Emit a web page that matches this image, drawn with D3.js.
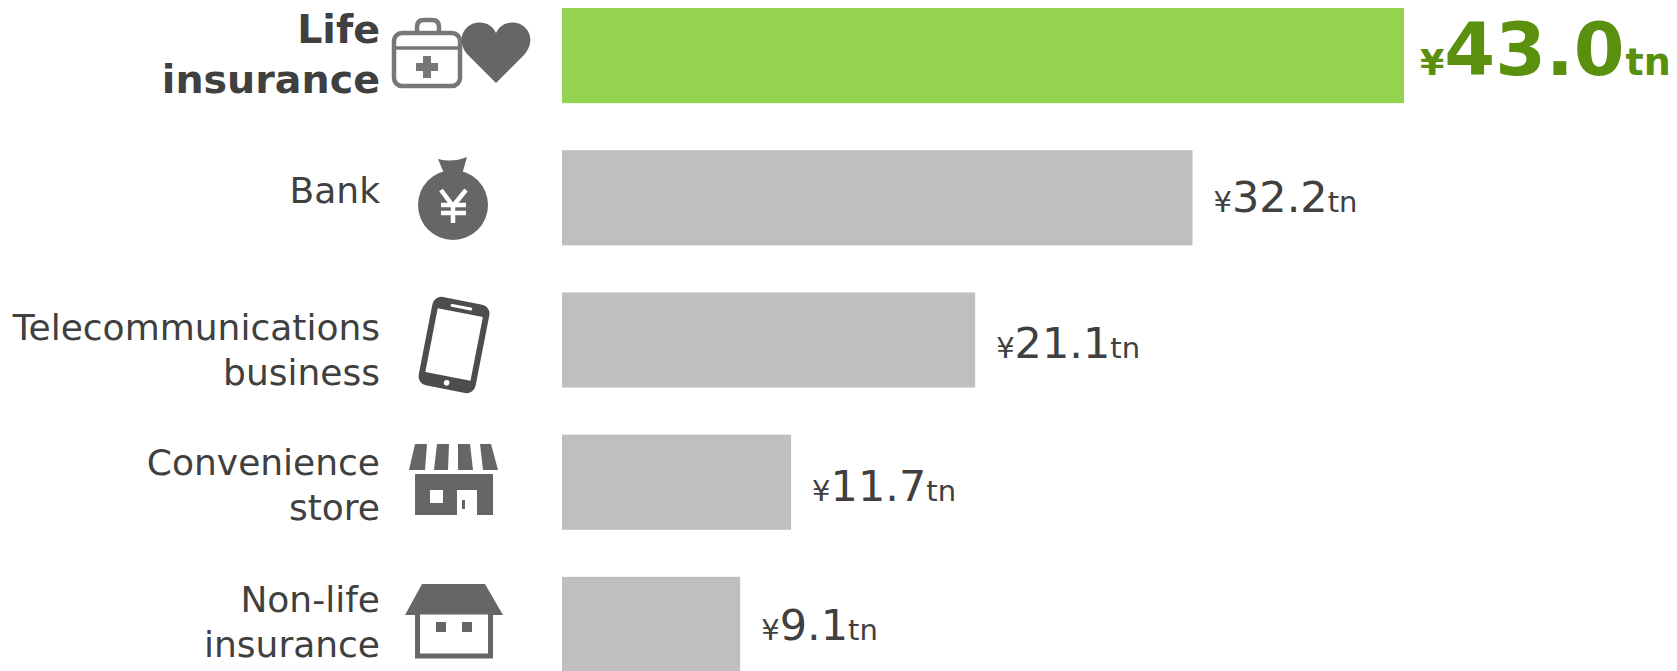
<!DOCTYPE html>
<html>
<head>
<meta charset="utf-8">
<script src="https://cdn.jsdelivr.net/npm/d3@7"></script>
<style>
html, body { margin: 0; padding: 0; background: #fff; }
svg { display: block; }
text { font-family: "DejaVu Sans", sans-serif; }
</style>
</head>
<body>
<svg id="chart" width="1677" height="671"></svg>
<script>
const categories = ["Life insurance", "Bank", "Telecommunications business", "Convenience store", "Non-life insurance"];
const labelLines = [["Life", "insurance"], ["Bank"], ["Telecommunications", "business"], ["Convenience", "store"], ["Non-life", "insurance"]];
const values = [43.0, 32.2, 21.1, 11.7, 9.1];
const highlight = "Life insurance";

const BAR_GREEN = "#94d350";
const BAR_GREY = "#bfbfbf";
const VALUE_GREEN = "#5b8f0e";
const TEXT_GREY = "#404040";
const ICON_GREY = "#666666";

const svg = d3.select("#chart");

const x = d3.scaleLinear().domain([0, 43]).range([562, 1404]);
const y = d3.scaleBand().domain(categories).range([8, 672]).paddingInner(0.331).paddingOuter(0);

//Bars
svg.selectAll(".bar")
    .data(categories)
    .join("rect")
    .attr("class", "bar")
    .attr("x", x(0))
    .attr("y", d => y(d))
    .attr("width", (d, i) => x(values[i]) - x(0))
    .attr("height", y.bandwidth())
    .style("fill", d => d === highlight ? BAR_GREEN : BAR_GREY);

//Category labels, right aligned at the icon column
const LABEL_X = 380;
const labelBaseline = [43, 203, 340, 475, 612];
const labelStep = [50, 0, 45, 45, 45];

svg.selectAll(".label")
    .data(categories)
    .join("text")
    .attr("class", "label")
    .attr("text-anchor", "end")
    .style("fill", TEXT_GREY)
    .style("font-size", d => d === highlight ? "39.6px" : "36px")
    .style("font-weight", d => d === highlight ? "bold" : "normal")
    .each(function(d, i) {
        d3.select(this).selectAll("tspan")
            .data(labelLines[i])
            .join("tspan")
            .attr("x", LABEL_X)
            .attr("y", (line, k) => labelBaseline[i] + k * labelStep[i])
            .text(line => line);
    });

//Value labels: small yen sign, number, small unit
const valueBaseline = [75, 212, 358, 501, 640];

const value = svg.selectAll(".value")
    .data(categories)
    .join("text")
    .attr("class", "value")
    .attr("x", (d, i) => x(values[i]) + (d === highlight ? 16 : 21))
    .attr("y", (d, i) => valueBaseline[i])
    .style("fill", d => d === highlight ? VALUE_GREEN : TEXT_GREY)
    .style("font-weight", d => d === highlight ? "bold" : "normal");

value.append("tspan")
    .style("font-size", d => d === highlight ? "35px" : "29px")
    .text("¥");
value.append("tspan")
    .style("font-size", d => d === highlight ? "73px" : "43px")
    .text((d, i) => values[i].toFixed(1));
value.append("tspan")
    .attr("dx", d => d === highlight ? 1 : 0)
    .style("font-size", d => d === highlight ? "38px" : "29px")
    .text("tn");

//Icons, each drawn in page pixels and softened a little like the scaled artwork
svg.append("defs").append("filter")
    .attr("id", "soft")
    .append("feGaussianBlur")
    .attr("stdDeviation", 0.5);

const icons = svg.append("g").attr("class", "icons").attr("filter", "url(#soft)");

function drawMedical(g) {
    g.append("path")
        .attr("d", "M417 32V27Q417 20 424 20H432Q439 20 439 27V32")
        .style("fill", "none").style("stroke", "#777").style("stroke-width", 4.5);
    g.append("rect")
        .attr("x", 394).attr("y", 33).attr("width", 66).attr("height", 53).attr("rx", 8)
        .style("fill", "#fff").style("stroke", "#777").style("stroke-width", 4.5);
    g.append("path")
        .attr("d", "M394 48H460")
        .style("stroke", "#777").style("stroke-width", 3.5);
    g.append("path")
        .attr("d", "M416 67H438M427 56V78")
        .style("stroke", "#777").style("stroke-width", 8);
    g.append("path")
        .attr("d", "M496 83L468 55C458 44 460 30 472 24C482 20 492 24 496 33C500 24 510 20 520 24C532 30 534 44 524 55Z")
        .style("fill", ICON_GREY);
}

function drawBag(g) {
    g.append("path")
        .attr("d", "M438 159Q452 163 467 157L461 178H446Z")
        .style("fill", ICON_GREY);
    g.append("circle")
        .attr("cx", 453).attr("cy", 205).attr("r", 35)
        .style("fill", ICON_GREY);
    g.append("path")
        .attr("d", "M441 190L453 206L466 190M453 206V223M441 205H466M441 213H466")
        .style("fill", "none").style("stroke", "#fff").style("stroke-width", 4.5);
}

function drawPhone(g) {
    const phone = g.append("g").attr("transform", "translate(454,345) rotate(11)");
    phone.append("rect")
        .attr("x", -29).attr("y", -45).attr("width", 58).attr("height", 90).attr("rx", 9)
        .style("fill", "#4d4d4d");
    phone.append("rect")
        .attr("x", -23).attr("y", -33).attr("width", 46).attr("height", 65)
        .style("fill", "#fff");
    phone.append("rect")
        .attr("x", -11).attr("y", -40).attr("width", 22).attr("height", 3).attr("rx", 1.5)
        .style("fill", "#fff");
    phone.append("circle")
        .attr("cx", 0).attr("cy", 38.5).attr("r", 2.8)
        .style("fill", "#fff");
}

function drawStore(g) {
    g.append("path")
        .attr("d", "M415 444H427L425 470H409ZM437 444H449L448 470H434ZM458 444H470L473 470H458ZM480 444H491L498 470H483Z")
        .style("fill", ICON_GREY);
    g.append("rect")
        .attr("x", 415).attr("y", 474).attr("width", 78).attr("height", 41)
        .style("fill", ICON_GREY);
    g.append("rect")
        .attr("x", 430).attr("y", 490).attr("width", 13).attr("height", 13)
        .style("fill", "#fff");
    g.append("rect")
        .attr("x", 457).attr("y", 490).attr("width", 20).attr("height", 25)
        .style("fill", "#fff");
    g.append("rect")
        .attr("x", 462).attr("y", 500).attr("width", 3).attr("height", 9)
        .style("fill", ICON_GREY);
}

function drawHouse(g) {
    g.append("path")
        .attr("d", "M422 584H485L503 615H405Z")
        .style("fill", ICON_GREY);
    g.append("rect")
        .attr("x", 417.5).attr("y", 612).attr("width", 73).attr("height", 44)
        .style("fill", "#fff").style("stroke", ICON_GREY).style("stroke-width", 5);
    g.append("rect")
        .attr("x", 436).attr("y", 622).attr("width", 10).attr("height", 10)
        .style("fill", ICON_GREY);
    g.append("rect")
        .attr("x", 462).attr("y", 622).attr("width", 10).attr("height", 10)
        .style("fill", ICON_GREY);
}

[drawMedical, drawBag, drawPhone, drawStore, drawHouse].forEach(draw => draw(icons.append("g")));
</script>
</body>
</html>
